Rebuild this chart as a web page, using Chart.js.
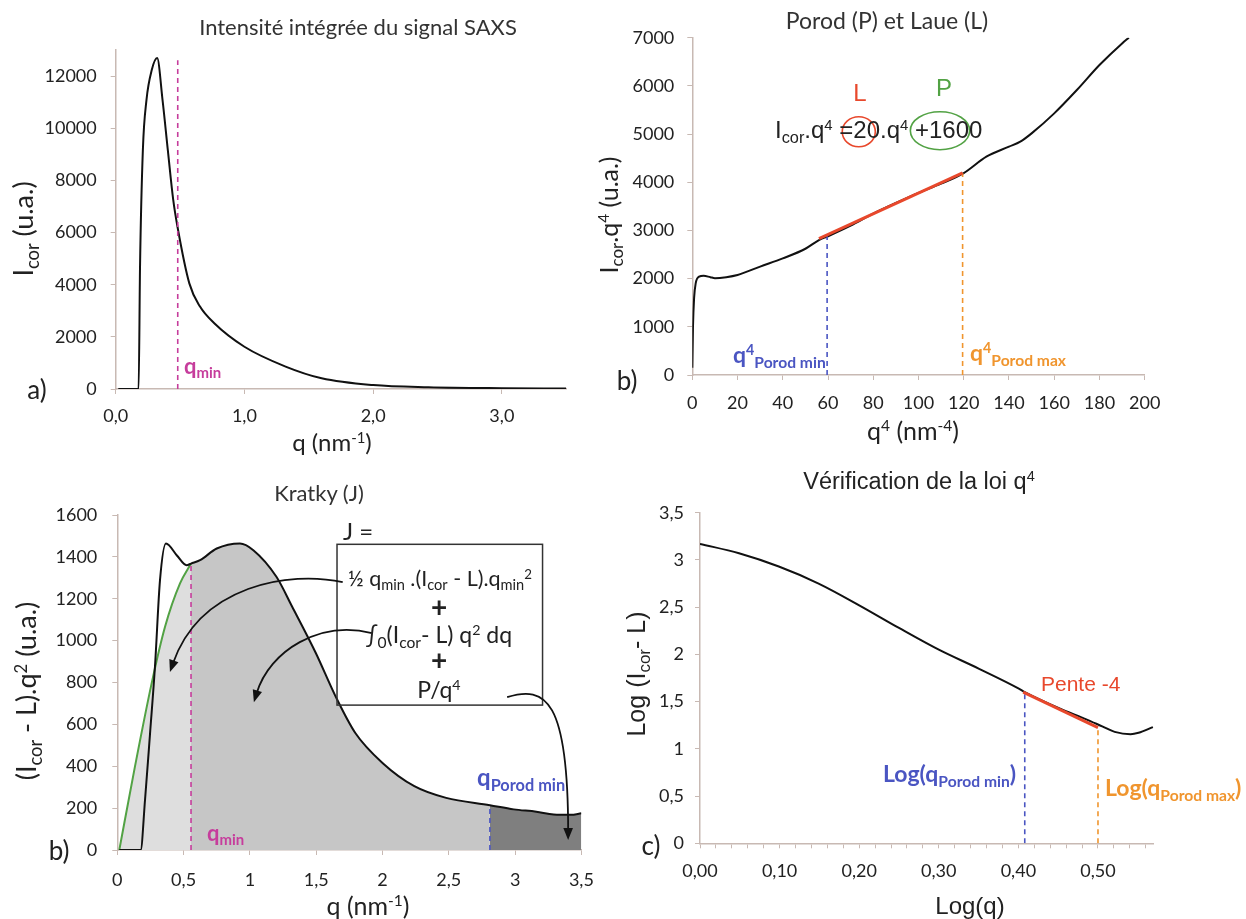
<!DOCTYPE html>
<html>
<head>
<meta charset="utf-8">
<script src="https://cdn.jsdelivr.net/npm/chart.js@4.4.1/dist/chart.umd.min.js"></script>
<style>
  body { margin: 0; background: #fff; }
  #page { position: relative; width: 1246px; height: 919px; overflow: hidden; font-family: Lato, sans-serif; color: #222; }
  .panel { position: absolute; }
  .t { position: absolute; white-space: nowrap; line-height: 1; }
  .ar { font-family: "Liberation Sans", Arial, sans-serif; }
  .b { font-weight: bold; }
  .sb { font-size: 0.68em; position: relative; top: 0.3em; }
  .sp { font-size: 0.62em; position: relative; top: -0.55em; }
</style>
</head>
<body>
<div id="page">
  <div class="panel" style="left:0;top:0;width:620px;height:440px"><canvas id="ca"></canvas></div>
  <div class="panel" style="left:620px;top:0;width:626px;height:440px"><canvas id="cb"></canvas></div>
  <div class="panel" style="left:0;top:440px;width:620px;height:479px"><canvas id="cc"></canvas></div>
  <div class="panel" style="left:620px;top:440px;width:626px;height:479px"><canvas id="cd"></canvas></div>
</div>
<script>
// ---- a) integrated SAXS intensity
const qA = [0.02, 0.178, 0.189, 0.211, 0.239, 0.28, 0.322, 0.364, 0.405, 0.447, 0.48, 0.572, 0.655, 0.766, 1.0, 1.32, 1.6, 2.0, 2.43, 3.0, 3.5];
const iA = [0, 0, 4690, 9160, 11080, 12230, 12690, 11080, 9160, 7250, 6220, 4050, 3160, 2520, 1620, 860, 410, 150, 65, 30, 20];
const qminA = 0.482, qminTopA = 12610;
const xTicksA = [0, 1, 2, 3], xLabA = ['0,0', '1,0', '2,0', '3,0'];
const yTicksA = [0, 2000, 4000, 6000, 8000, 10000, 12000];

// ---- b) Porod / Laue
const q4B = [0, 0.3, 0.8, 1.5, 3, 5, 8, 10, 15, 20, 30, 40, 50, 56, 60, 70, 80, 90, 100, 110, 120, 130, 140, 145, 150, 160, 170, 180, 190, 193];
const iq4B = [150, 1000, 1600, 1900, 2040, 2060, 2030, 2010, 2030, 2075, 2250, 2420, 2620, 2800, 2880, 3100, 3350, 3570, 3780, 3970, 4190, 4530, 4738, 4842, 5015, 5430, 5914, 6433, 6882, 7000];
const fitXB = [56, 119.5], fitYB = [2830, 4195];
const porodMinB = 59.6, porodMinTopB = 2880;
const porodMaxB = 119.5, porodMaxTopB = 4190;
const xTicksB = [0, 20, 40, 60, 80, 100, 120, 140, 160, 180, 200];
const yTicksB = [0, 1000, 2000, 3000, 4000, 5000, 6000, 7000];

// ---- b) Kratky
const qC = [0.015, 0.176, 0.209, 0.247, 0.284, 0.322, 0.367, 0.448, 0.523, 0.556, 0.624, 0.75, 0.925, 1.026, 1.2, 1.318, 1.497, 1.646, 1.795, 2.0, 2.24, 2.48, 2.81, 2.99, 3.16, 3.29, 3.42, 3.5];
const jC = [0, 0, 239, 557, 875, 1289, 1464, 1408, 1360, 1368, 1384, 1440, 1464, 1432, 1305, 1163, 941, 734, 559, 416, 305, 249, 214, 194, 183, 170, 168, 175];
const qGreenC = [0.015, 0.133, 0.259, 0.36, 0.473, 0.556];
const jGreenC = [0, 398, 796, 1066, 1273, 1368];
const qminC = 0.556, qminTopC = 1368;
const porodMinC = 2.81, porodMinTopC = 214;
const xTicksC = [0, 0.5, 1, 1.5, 2, 2.5, 3, 3.5], xLabC = ['0', '0,5', '1', '1,5', '2', '2,5', '3', '3,5'];
const yTicksC = [0, 200, 400, 600, 800, 1000, 1200, 1400, 1600];

// ---- c) q^-4 law check
const lqD = [0, 0.049, 0.099, 0.149, 0.2, 0.25, 0.30, 0.35, 0.40, 0.408, 0.451, 0.486, 0.506, 0.521, 0.541, 0.551, 0.569];
const liD = [3.17, 3.07, 2.93, 2.75, 2.52, 2.28, 2.05, 1.85, 1.64, 1.60, 1.43, 1.31, 1.235, 1.18, 1.155, 1.17, 1.23];
const fitXD = [0.406, 0.50], fitYD = [1.60, 1.225];
const porodMinD = 0.408, porodMinTopD = 1.60;
const porodMaxD = 0.50, porodMaxTopD = 1.225;
const xTicksD = [0, 0.1, 0.2, 0.3, 0.4, 0.5], xLabD = ['0,00', '0,10', '0,20', '0,30', '0,40', '0,50'];
const xMinorD = [0.02, 0.04, 0.06, 0.08, 0.12, 0.14, 0.16, 0.18, 0.22, 0.24, 0.26, 0.28, 0.32, 0.34, 0.36, 0.38, 0.42, 0.44, 0.46, 0.48, 0.52, 0.54, 0.56];
const yTicksD = [0, 0.5, 1, 1.5, 2, 2.5, 3, 3.5], yLabD = ['0', '0,5', '1', '1,5', '2', '2,5', '3', '3,5'];

const AXIS = '#c8b9b3', INK = '#111';
const MAG = '#c63d9c', BLUE = '#4a55c2', ORANGE = '#f0952e', RED = '#e8482c', GREEN = '#52a244';

const pts = (xs, ys) => xs.map((x, i) => ({ x, y: ys[i] }));
const vline = (x, top, color) => ({ data: [{ x, y: 0 }, { x, y: top }], borderColor: color, borderWidth: 1.6, borderDash: [5, 4], pointRadius: 0, order: 1 });

function axis(min, max, ticks, labels, size, pad, minor) {
  const all = minor ? ticks.concat(minor).sort((a, b) => a - b) : ticks;
  return {
    type: 'linear', min, max,
    afterBuildTicks: s => { s.ticks = all.map(v => ({ value: v })); },
    afterFit: s => { if (s.isHorizontal()) s.height = size; else s.width = size; },
    grid: { drawOnChartArea: false, drawTicks: true, tickLength: 5, color: AXIS },
    border: { display: true, color: AXIS, width: 1.5 },
    ticks: {
      color: '#222', font: { family: 'Lato', size: 18 }, padding: pad, maxRotation: 0, autoSkip: false,
      callback: v => {
        const k = ticks.findIndex(t => Math.abs(t - v) < 1e-9);
        return k < 0 ? '' : (labels ? labels[k] : String(v));
      }
    }
  };
}

function make(id, datasets, x, y, pad, draw) {
  return new Chart(document.getElementById(id), {
    type: 'line',
    data: { datasets },
    options: {
      responsive: true, maintainAspectRatio: false, animation: false,
      layout: { padding: pad },
      plugins: { legend: { display: false }, tooltip: { enabled: false } },
      scales: { x, y }
    },
    plugins: draw ? [{ id: 'annot' + id, afterDatasetsDraw: draw }] : []
  });
}

const curve = (data, extra) => Object.assign({ data, borderColor: INK, borderWidth: 2, pointRadius: 0, cubicInterpolationMode: 'monotone', order: 2 }, extra);

// a)
make('ca', [
  curve(pts(qA, iA)),
  vline(qminA, qminTopA, MAG)
], axis(0, 3.5, xTicksA, xLabA, 51, 11), axis(0, 13000, yTicksA, null, 115.7, 14),
  { top: 50, right: 53.8, left: 0, bottom: 0 });

// b) Porod
function drawB(c) {
  const ctx = c.ctx, xs = c.scales.x, ys = c.scales.y;
  const ell = (cx, cy, rx, ry, col) => {
    const px = xs.getPixelForValue(cx), py = ys.getPixelForValue(cy);
    ctx.save(); ctx.strokeStyle = col; ctx.lineWidth = 1.6;
    ctx.beginPath();
    ctx.ellipse(px, py, Math.abs(xs.getPixelForValue(cx + rx) - px), Math.abs(ys.getPixelForValue(cy + ry) - py), 0, 0, Math.PI * 2);
    ctx.stroke(); ctx.restore();
  };
  ell(73.6, 5049, 7.3, 311, RED);
  ell(109.5, 5070, 13.1, 394, GREEN);
}
make('cb', [
  { data: pts(fitXB, fitYB), borderColor: RED, borderWidth: 3, pointRadius: 0, order: 1 },
  curve(pts(q4B, iq4B)),
  vline(porodMinB, porodMinTopB, BLUE),
  vline(porodMaxB, porodMaxTopB, ORANGE)
], axis(0, 200, xTicksB, null, 65, 12), axis(0, 7000, yTicksB, null, 72.3, 13),
  { top: 37.7, right: 101.3, left: 0, bottom: 0 }, drawB);

// b) Kratky
function drawC(c) {
  const ctx = c.ctx, xs = c.scales.x, ys = c.scales.y;
  const P = (x, y) => [xs.getPixelForValue(x), ys.getPixelForValue(y)];
  ctx.save();
  const [bx0, by0] = P(1.657, 1460), [bx1, by1] = P(3.207, 692);
  ctx.strokeStyle = '#333'; ctx.lineWidth = 1.5;
  ctx.strokeRect(bx0, by0, bx1 - bx0, by1 - by0);
  const arrow = (a, b, d, e) => {
    const p0 = P(...a), p1 = P(...b), p2 = P(...d), p3 = P(...e);
    ctx.strokeStyle = INK; ctx.fillStyle = INK; ctx.lineWidth = 1.8;
    const ang = Math.atan2(p3[1] - p2[1], p3[0] - p2[0]);
    const end = [p3[0] - 9 * Math.cos(ang), p3[1] - 9 * Math.sin(ang)];
    ctx.beginPath(); ctx.moveTo(...p0); ctx.bezierCurveTo(...p1, ...p2, ...end); ctx.stroke();
    ctx.beginPath(); ctx.moveTo(...p3);
    ctx.lineTo(p3[0] - 13 * Math.cos(ang - 0.38), p3[1] - 13 * Math.sin(ang - 0.38));
    ctx.lineTo(p3[0] - 13 * Math.cos(ang + 0.38), p3[1] - 13 * Math.sin(ang + 0.38));
    ctx.closePath(); ctx.fill();
  };
  arrow([1.70, 1279], [1.30, 1336], [0.624, 1265], [0.397, 850]);
  arrow([1.92, 1036], [1.53, 1098], [1.15, 955], [1.03, 706]);
  arrow([2.94, 730], [3.23, 788], [3.40, 716], [3.40, 48]);
  ctx.restore();
}
const blackC = pts(qC, jC);
make('cc', [
  curve(blackC, { order: 2 }),
  { data: pts(qGreenC, jGreenC), borderColor: GREEN, borderWidth: 2, pointRadius: 0, cubicInterpolationMode: 'monotone', fill: 'origin', backgroundColor: '#dedede', order: 3 },
  curve(blackC.filter(p => p.x >= qminC && p.x <= porodMinC), { borderWidth: 0, fill: 'origin', backgroundColor: '#c6c6c6', order: 5 }),
  curve(blackC.filter(p => p.x >= porodMinC), { borderWidth: 0, fill: 'origin', backgroundColor: '#7f7f7f', order: 5 }),
  vline(qminC, qminTopC, MAG),
  vline(porodMinC, porodMinTopC, BLUE)
], axis(0, 3.5, xTicksC, xLabC, 69, 14), axis(0, 1600, yTicksC, null, 117.3, 15),
  { top: 75, right: 38.6, left: 0, bottom: 0 }, drawC);

// c) log-log
make('cd', [
  { data: pts(fitXD, fitYD), borderColor: RED, borderWidth: 3, pointRadius: 0, order: 1 },
  curve(pts(lqD, liD)),
  vline(porodMinD, porodMinTopD, BLUE),
  vline(porodMaxD, porodMaxTopD, ORANGE)
], axis(0, 0.57, xTicksD, xLabD, 75.7, 12, xMinorD), axis(0, 3.5, yTicksD, yLabD, 80, 11),
  { top: 72.7, right: 92.3, left: 0, bottom: 0 });

// ---- text
const page = document.getElementById('page');
function put(html, x, y, o = {}) {
  const d = document.createElement('div');
  d.className = 't ' + (o.cls || '');
  d.innerHTML = html;
  d.style.left = x + 'px'; d.style.top = y + 'px';
  d.style.fontSize = (o.size || 20) + 'px';
  d.style.color = o.color || '#222';
  d.style.transform = (o.left ? 'translate(0,-50%)' : 'translate(-50%,-50%)') + (o.rot ? ' rotate(-90deg)' : '');
  page.appendChild(d);
}
const sb = s => `<span class="sb">${s}</span>`, sp = s => `<span class="sp">${s}</span>`;

// a)
put('Intensité intégrée du signal SAXS', 358, 27, { size: 22, color: '#333' });
put(`I${sb('cor')} (u.a.)`, 22, 229, { size: 27, rot: true });
put(`q (nm${sp('-1')})`, 332, 442, { size: 24 });
put('a)', 37, 389, { size: 26 });
put(`q${sb('min')}`, 184, 366, { size: 22, color: MAG, cls: 'b', left: true });

// b) Porod
put('Porod (P) et Laue (L)', 887, 20, { size: 23, color: '#333' });
put(`I${sb('cor')}.q${sp('4')} (u.a.)`, 608, 215, { size: 25, rot: true });
put(`q${sp('4')} (nm${sp('-4')})`, 913, 430, { size: 25 });
put('b)', 627, 380, { size: 26 });
put(`I${sb('cor')}.q${sp('4')} =20.q${sp('4')} +1600`, 775, 130, { size: 24, cls: 'ar', left: true });
put('L', 860, 93, { size: 24, color: RED, cls: 'ar' });
put('P', 944, 88, { size: 24, color: GREEN, cls: 'ar' });
put(`q${sp('4')}${sb('Porod min')}`, 733, 354, { size: 23, color: BLUE, cls: 'b', left: true });
put(`q${sp('4')}${sb('Porod max')}`, 970, 352, { size: 23, color: ORANGE, cls: 'b', left: true });

// b) Kratky
put('Kratky (J)', 319, 493, { size: 22, color: '#333' });
put(`(I${sb('cor')} - L).q${sp('2')} (u.a.)`, 25, 691, { size: 27, rot: true });
put(`q (nm${sp('-1')})`, 368, 905, { size: 25 });
put('b)', 59, 850, { size: 26 });
put('J =', 343, 531, { size: 24, left: true });
put(`½ q${sb('min')} .(I${sb('cor')} - L).q${sb('min')}${sp('2')}`, 440, 579, { size: 21.5 });
put('+', 439, 606, { size: 28, cls: 'b' });
put(`∫${sb('0')}(I${sb('cor')}- L) q${sp('2')} dq`, 439, 634, { size: 23 });
put('+', 439, 659, { size: 28, cls: 'b' });
put(`P/q${sp('4')}`, 439, 689, { size: 23 });
put(`q${sb('min')}`, 207, 833, { size: 22, color: MAG, cls: 'b', left: true });
put(`q${sb('Porod min')}`, 477, 777, { size: 24, color: BLUE, cls: 'b', left: true });

// c)
put(`Vérification de la loi q${sp('4')}`, 919, 482, { size: 23.5, cls: 'ar' });
put(`Log (I${sb('cor')}- L)`, 636, 674, { size: 25, rot: true, cls: 'ar' });
put('Log(q)', 970, 906, { size: 24, cls: 'ar' });
put('c)', 651, 845, { size: 26 });
put('Pente -4', 1041, 683, { size: 21, color: RED, cls: 'ar', left: true });
put(`Log(q${sb('Porod min')})`, 883, 773, { size: 23, color: BLUE, cls: 'b', left: true });
put(`Log(q${sb('Porod max')})`, 1105, 787, { size: 23, color: ORANGE, cls: 'b', left: true });
</script>
</body>
</html>
